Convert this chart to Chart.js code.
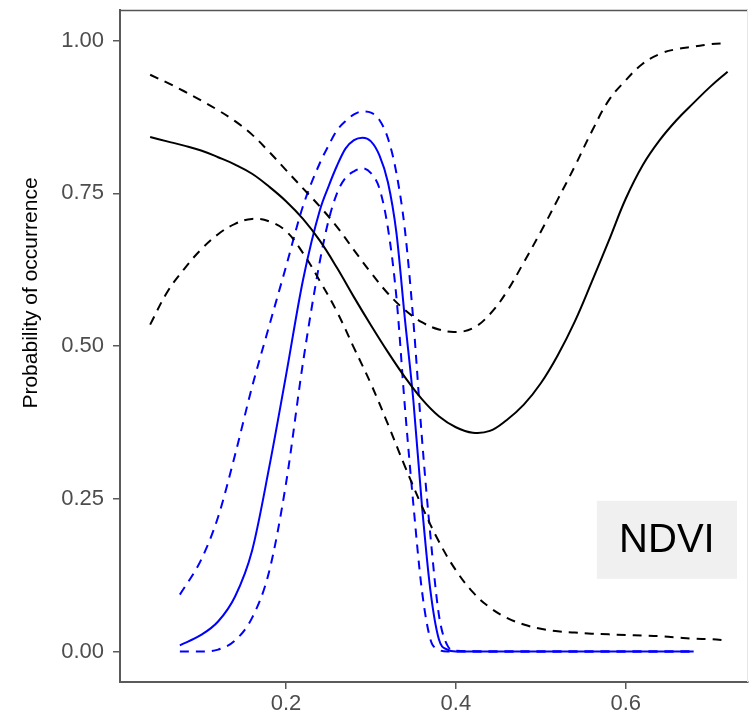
<!DOCTYPE html>
<html>
<head>
<meta charset="utf-8">
<script src="https://cdn.jsdelivr.net/npm/chart.js@4/dist/chart.umd.min.js"></script>
<style>
  html, body { margin: 0; padding: 0; background: #ffffff; overflow: hidden; }
  #wrap { width: 753px; height: 721px; }
</style>
</head>
<body>
<div id="wrap"><canvas id="c" width="753" height="721"></canvas></div>
<script>
// ---- Data ----
const xBlack = [0.04,0.06,0.08,0.10,0.12,0.14,0.16,0.18,0.20,0.22,0.24,0.26,0.28,0.30,0.32,0.34,0.36,0.38,0.40,0.42,0.44,0.46,0.48,0.50,0.52,0.54,0.56,0.58,0.60,0.62,0.64,0.66,0.68,0.70,0.72];
const blackFit = [0.842,0.835,0.828,0.820,0.809,0.797,0.782,0.761,0.737,0.708,0.672,0.628,0.580,0.534,0.490,0.449,0.413,0.385,0.367,0.358,0.361,0.379,0.404,0.439,0.485,0.540,0.605,0.672,0.741,0.796,0.837,0.870,0.898,0.925,0.949];
const blackUpper = [0.944,0.931,0.917,0.902,0.886,0.868,0.846,0.818,0.788,0.758,0.728,0.695,0.657,0.620,0.586,0.559,0.539,0.527,0.523,0.529,0.552,0.589,0.637,0.687,0.740,0.794,0.851,0.902,0.935,0.962,0.978,0.986,0.990,0.994,0.996];
const blackLower = [0.535,0.588,0.626,0.658,0.683,0.700,0.708,0.704,0.688,0.652,0.606,0.556,0.497,0.438,0.372,0.303,0.238,0.180,0.133,0.097,0.072,0.055,0.044,0.037,0.033,0.031,0.029,0.028,0.027,0.026,0.025,0.023,0.021,0.020,0.018];

const xBlue = [0.075,0.10,0.12,0.14,0.16,0.18,0.20,0.22,0.24,0.25,0.26,0.27,0.28,0.29,0.30,0.31,0.32,0.33,0.34,0.35,0.36,0.37,0.38,0.39,0.40,0.45,0.50,0.55,0.60,0.65,0.68];
const blueFit = [0.010,0.027,0.049,0.090,0.165,0.300,0.452,0.608,0.723,0.761,0.795,0.823,0.837,0.841,0.835,0.812,0.768,0.685,0.544,0.410,0.240,0.100,0.020,0.003,0,0,0,0,0,0,0];
const blueUpper = [0.093,0.150,0.220,0.322,0.433,0.532,0.630,0.729,0.800,0.828,0.853,0.868,0.879,0.884,0.882,0.870,0.840,0.783,0.690,0.540,0.350,0.190,0.060,0.010,0.001,0,0,0,0,0,0];
const blueLower = [0,0,0.003,0.018,0.055,0.130,0.275,0.473,0.640,0.705,0.750,0.775,0.786,0.791,0.783,0.758,0.693,0.580,0.400,0.240,0.100,0.020,0.003,0,0,0,0,0,0,0,0];

const yTicks = [0, 0.25, 0.5, 0.75, 1.0];
const xTicks = [0.2, 0.4, 0.6];
const yTitle = "Probability of occurrence";
const panelLabel = "NDVI";

// ---- Chart construction ----
const pts = (xs, ys) => xs.map((x, i) => ({ x: x, y: ys[i] }));
const lineDs = (xs, ys, color, dashed, smoothMode) => ({
  data: pts(xs, ys),
  borderColor: color,
  borderWidth: 2,
  borderDash: dashed ? [9, 7] : [],
  pointRadius: 0,
  showLine: true,
  fill: false,
  tension: 0.4,
  cubicInterpolationMode: smoothMode
});

const AXIS_GREY = '#5a5a5a';
const TICK_GREY = '#4d4d4d';

// annotation box in data units
const labelBox = { x0: 0.566, x1: 0.731, y0: 0.119, y1: 0.2466 };

const extras = {
  id: 'extras',
  afterDraw(chart) {
    const ctx = chart.ctx;
    const a = chart.chartArea;
    const xs = chart.scales.x, ys = chart.scales.y;
    ctx.save();
    // panel top & right border
    ctx.strokeStyle = '#555555';
    ctx.lineWidth = 1.5;
    ctx.beginPath();
    ctx.moveTo(a.left, a.top + 0.5);
    ctx.lineTo(a.right, a.top + 0.5);
    ctx.stroke();
    ctx.strokeStyle = '#e6e6e6';
    ctx.lineWidth = 1;
    ctx.beginPath();
    ctx.moveTo(a.right - 0.5, a.top);
    ctx.lineTo(a.right - 0.5, a.bottom);
    ctx.stroke();
    // NDVI label box
    const bx0 = xs.getPixelForValue(labelBox.x0), bx1 = xs.getPixelForValue(labelBox.x1);
    const by0 = ys.getPixelForValue(labelBox.y1), by1 = ys.getPixelForValue(labelBox.y0);
    ctx.fillStyle = '#f0f0f0';
    ctx.fillRect(bx0, by0, bx1 - bx0, by1 - by0);
    ctx.fillStyle = '#000000';
    ctx.font = '40px "Liberation Sans", Arial, sans-serif';
    ctx.textAlign = 'center';
    ctx.textBaseline = 'middle';
    ctx.fillText(panelLabel, (bx0 + bx1) / 2, (by0 + by1) / 2 + 1);
    // y-axis title
    ctx.translate(37, 293);
    ctx.rotate(-Math.PI / 2);
    ctx.font = '21px "Liberation Sans", Arial, sans-serif';
    ctx.textAlign = 'center';
    ctx.textBaseline = 'alphabetic';
    ctx.fillText(yTitle, 0, 0);
    ctx.restore();
  }
};

new Chart(document.getElementById('c'), {
  type: 'scatter',
  data: {
    datasets: [
      lineDs(xBlack, blackUpper, '#000000', true, 'default'),
      lineDs(xBlack, blackLower, '#000000', true, 'default'),
      lineDs(xBlack, blackFit, '#000000', false, 'default'),
      lineDs(xBlue, blueUpper, '#0000ff', true, 'monotone'),
      lineDs(xBlue, blueLower, '#0000ff', true, 'monotone'),
      lineDs(xBlue, blueFit, '#0000ff', false, 'monotone')
    ]
  },
  options: {
    responsive: false,
    devicePixelRatio: 1,
    animation: false,
    layout: { padding: { left: 0, right: 5, top: 10, bottom: 0 } },
    plugins: { legend: { display: false }, tooltip: { enabled: false } },
    scales: {
      x: {
        type: 'linear',
        min: 0.0045,
        max: 0.744,
        afterBuildTicks: s => { s.ticks = xTicks.map(v => ({ value: v })); },
        afterFit: s => { s.height = 39; s.paddingLeft = 0; s.paddingRight = 0; },
        ticks: {
          callback: v => Number(v).toFixed(1),
          color: TICK_GREY,
          font: { family: '"Liberation Sans", Arial, sans-serif', size: 22 },
          padding: 2,
          maxRotation: 0
        },
        grid: { drawOnChartArea: false, drawTicks: true, tickLength: 7, color: AXIS_GREY, lineWidth: 1.5 },
        border: { display: true, color: AXIS_GREY, width: 2 }
      },
      y: {
        type: 'linear',
        min: -0.05,
        max: 1.05,
        afterBuildTicks: s => { s.ticks = yTicks.map(v => ({ value: v })); },
        afterFit: s => { s.width = 120; s.paddingTop = 0; s.paddingBottom = 0; },
        ticks: {
          callback: v => Number(v).toFixed(2),
          color: TICK_GREY,
          font: { family: '"Liberation Sans", Arial, sans-serif', size: 22 },
          padding: 9
        },
        grid: { drawOnChartArea: false, drawTicks: true, tickLength: 7, color: AXIS_GREY, lineWidth: 1.5 },
        border: { display: true, color: AXIS_GREY, width: 2 }
      }
    }
  },
  plugins: [extras]
});
</script>
</body>
</html>
